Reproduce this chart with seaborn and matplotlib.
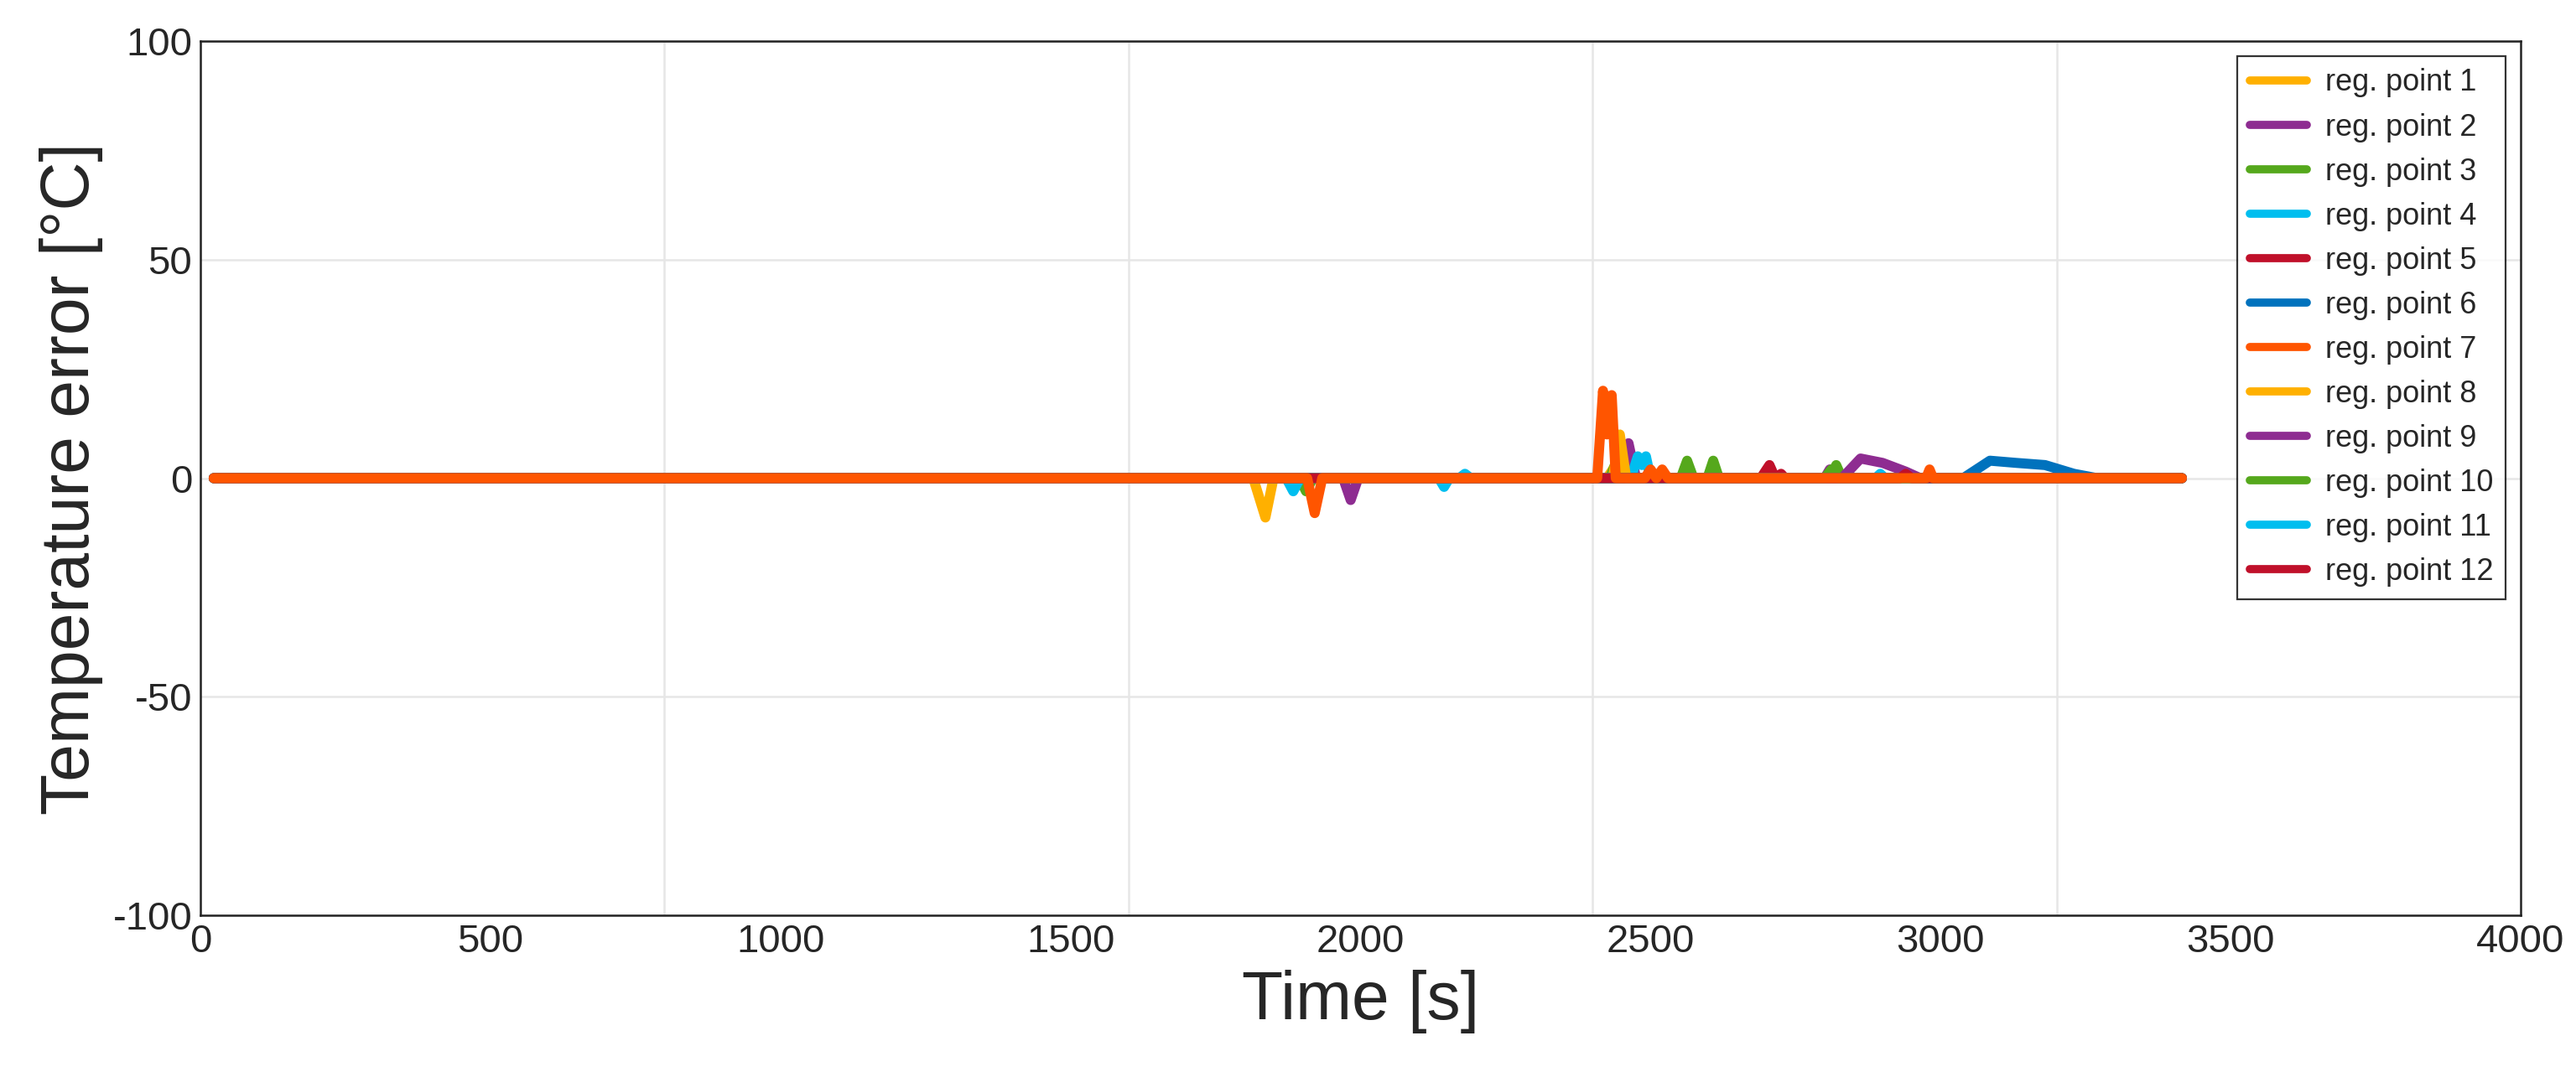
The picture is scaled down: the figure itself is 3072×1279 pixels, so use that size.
import matplotlib
matplotlib.use("Agg")
import matplotlib.pyplot as plt
import seaborn as sns
import pandas as pd

sns.set_theme(style="white")
plt.rcParams['font.family'] = ['Liberation Sans', 'DejaVu Sans']
plt.rcParams['axes.unicode_minus'] = False

labels = [f"reg. point {i}" for i in range(1, 13)]
colors = ["#FFB000", "#8E2C91", "#55A81C", "#00BEEF", "#C0102A", "#0072BD",
          "#FF5500", "#FFB000", "#8E2C91", "#55A81C", "#00BEEF", "#C0102A"]

# (time, value) per series; zero elsewhere
t1 = [23, 1815, 1836, 1850, 2425, 2440, 2452, 3416]; v1 = [0, 0, -9, 0, 0, 3, 0, 0]
t2 = [23, 1970, 1983, 1996, 2445, 2462, 2475, 2800, 2809, 2818, 3416]; v2 = [0, 0, -5, 0, 0, 8, 0, 0, 2, 0, 0]
t3 = [23, 1895, 1906, 1918, 2430, 2444, 2458, 2552, 2563, 2574, 2598, 2608, 2618, 2810, 2820, 2830, 3416]; v3 = [0, 0, -3, 0, 0, 5, 0, 0, 4, 0, 0, 4, 0, 0, 3, 0, 0]
t4 = [23, 1872, 1884, 1896, 2135, 2144, 2153, 2466, 2478, 2485, 2492, 2500, 2888, 2896, 2904, 3416]; v4 = [0, 0, -3, 0, 0, -2, 0, 0, 5, 3, 5, 0, 0, 1, 0, 0]
t5 = [23, 2690, 2705, 2715, 2720, 2725, 2732, 2926, 2936, 2946, 3416]; v5 = [0, 0, 3, 0, 0, 1, 0, 0, 1, 0, 0]
t6 = [23, 3039, 3085, 3130, 3180, 3230, 3270, 3416]; v6 = [0, 0, 4, 3.5, 3, 1, 0, 0]
t7 = [23, 1908, 1921, 1934, 2408, 2418, 2425, 2433, 2440, 2490, 2500, 2510, 2520, 2530, 2975, 2981, 2987, 3416]; v7 = [0, 0, -8, 0, 0, 20, 10, 19, 0, 0, 2, 0, 2, 0, 0, 2, 0, 0]
t8 = [23, 2435, 2447, 2458, 3416]; v8 = [0, 0, 10, 0, 0]
t9 = [23, 2830, 2862, 2900, 2940, 2965, 3416]; v9 = [0, 0, 4.5, 3.5, 1.5, 0, 0]
t10 = [23, 2800, 2812, 2824, 3416]; v10 = [0, 0, 2, 0, 0]
t11 = [23, 2170, 2180, 2190, 3416]; v11 = [0, 0, 1, 0, 0]
t12 = [23, 2930, 2940, 2950, 3416]; v12 = [0, 0, 1, 0, 0]

ts = [t1, t2, t3, t4, t5, t6, t7, t8, t9, t10, t11, t12]
vs = [v1, v2, v3, v4, v5, v6, v7, v8, v9, v10, v11, v12]

fig = plt.figure(figsize=(15.36, 6.395), dpi=200)
ax = fig.add_axes([239/3072, 1-1092/1279, (3006-239)/3072, (1092-49)/1279])
order = [i for i in range(12) if i != 6] + [6]
for i in order:
    df = pd.DataFrame({"t": ts[i], "v": vs[i]})
    sns.lineplot(data=df, x="t", y="v", ax=ax, color=colors[i], linewidth=4.3, label=labels[i])
h, l = ax.get_legend_handles_labels()
d = dict(zip(l, h))
leg = ax.legend([d[x] for x in labels], labels, loc="upper right", fontsize=13, frameon=True,
          fancybox=False, edgecolor="black", borderaxespad=0.5, handlelength=1.9,
          labelspacing=0.5, borderpad=0.4, handletextpad=0.6)
leg.get_frame().set_linewidth(0.8)
for lh in leg.get_lines():
    lh.set_linewidth(3.5)
ax.set_xlim(0, 4000)
ax.set_ylim(-100, 100)
ax.set_xticks(range(0, 4001, 500))
ax.set_xticks(range(0, 4001, 800), minor=True)
ax.set_yticks([-100, -50, 0, 50, 100])
ax.set_xlabel("Time [s]", fontsize=29)
ax.set_ylabel("Temperature error [°C]", fontsize=29)
ax.tick_params(axis="both", which="major", labelsize=17, length=0)
ax.tick_params(axis="x", which="minor", length=6, direction="in", color="#222222", width=0.8)
ax.grid(False)
ax.grid(True, axis="x", which="minor", color="#e6e6e6", linewidth=0.9)
ax.grid(True, axis="y", which="major", color="#e6e6e6", linewidth=0.9)
for s in ax.spines.values():
    s.set_color("#222222"); s.set_linewidth(0.9)
fig.savefig("out.png", dpi=200)
